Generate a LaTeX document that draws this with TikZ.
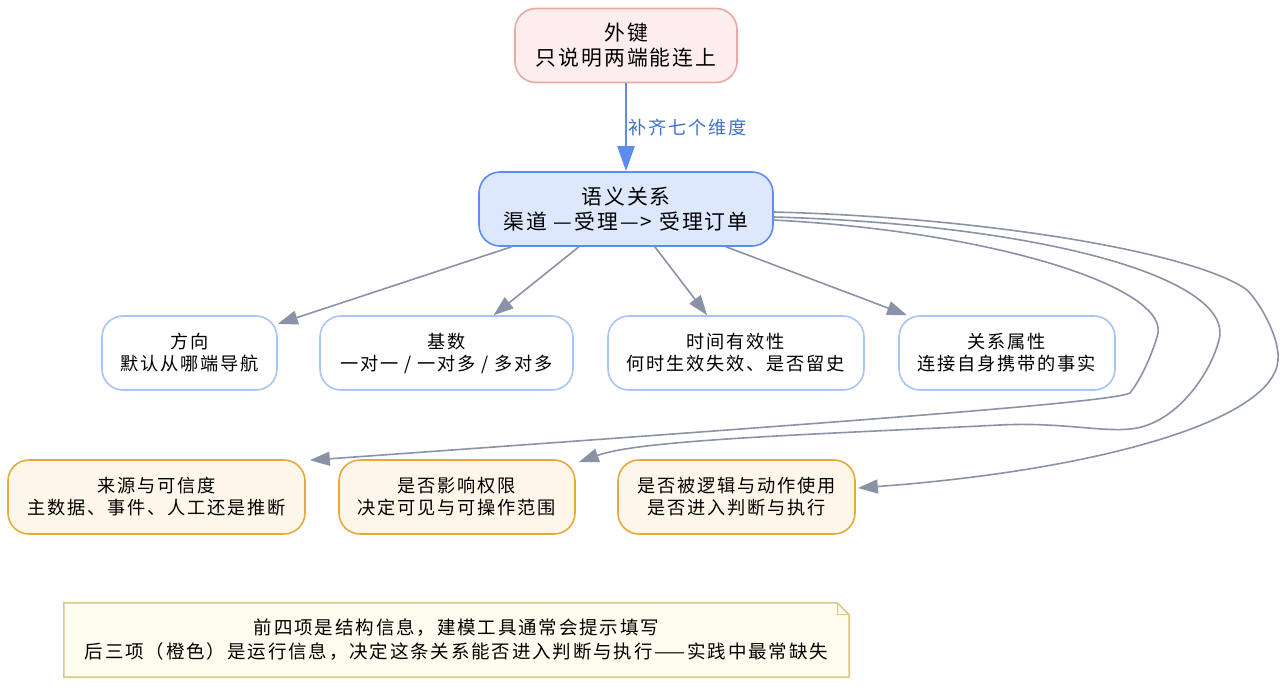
\documentclass[tikz,border=0pt]{standalone}
\usepackage{fontspec}
\setmainfont{Noto Sans CJK SC}
\newfontfamily\cjk[LetterSpace=10]{Noto Sans CJK SC}
\usetikzlibrary{arrows.meta,calc,backgrounds}
\definecolor{topfill}{HTML}{FDEEEE}
\definecolor{topdraw}{HTML}{E8A9A4}
\definecolor{cfill}{HTML}{DDE8FD}
\definecolor{cdraw}{HTML}{5B8DEF}
\definecolor{sdraw}{HTML}{A6C4F5}
\definecolor{ofill}{HTML}{FFF6EA}
\definecolor{odraw}{HTML}{E8A93C}
\definecolor{nfill}{HTML}{FFFDEF}
\definecolor{ndraw}{HTML}{DCC68A}
\definecolor{edgegray}{HTML}{8A93A5}
\definecolor{lblue}{HTML}{3F6FD0}
\tikzset{
  box/.style={rectangle, rounded corners=21pt, minimum height=74pt, inner sep=0pt, align=center, line width=1.6pt, text=black},
  bigbox/.style={box, font=\fontsize{20.8}{25}\selectfont\cjk},
  smallbox/.style={box, font=\fontsize{18.2}{22}\selectfont\cjk},
  structbox/.style={smallbox, fill=white, draw=sdraw},
  runbox/.style={smallbox, fill=ofill, draw=odraw},
  grayedge/.style={draw=edgegray, line width=1.6pt, -{Triangle[length=20pt,width=14pt]}},
  blueedge/.style={draw=cdraw, line width=2.3pt, -{Triangle[length=25pt,width=17pt]}},
}
\begin{document}
\begin{tikzpicture}[x=1pt,y=-1pt]
\useasboundingbox (0,0) rectangle (1287,686);
\node[bigbox, fill=topfill, draw=topdraw, minimum width=222pt] (fk) at (626,45.5) {外键\\只说明两端能连上};
\node[bigbox, fill=cfill, draw=cdraw, minimum width=294pt] (sem) at (626,209) {语义关系\\渠道 —受理—> 受理订单};
\node[structbox, minimum width=175pt] (d1) at (189.5,353) {方向\\默认从哪端导航};
\node[structbox, minimum width=253pt] (d2) at (446.5,353) {基数\\一对一 / 一对多 / 多对多};
\node[structbox, minimum width=256pt] (d3) at (736,353) {时间有效性\\何时生效失效、是否留史};
\node[structbox, minimum width=216pt] (d4) at (1007,353) {关系属性\\连接自身携带的事实};
\node[runbox, minimum width=297pt] (e1) at (156.5,497) {来源与可信度\\主数据、事件、人工还是推断};
\node[runbox, minimum width=236pt] (e2) at (457,497) {是否影响权限\\决定可见与可操作范围};
\node[runbox, minimum width=237pt] (e3) at (736.5,497) {是否被逻辑与动作使用\\是否进入判断与执行};
\node[minimum width=785pt, minimum height=74pt, inner sep=0pt, align=center, font=\fontsize{18.5}{24}\selectfont\cjk] (note) at (456.5,640) {前四项是结构信息，建模工具通常会提示填写\\后三项（橙色）是运行信息，决定这条关系能否进入判断与执行——实践中最常缺失};
\begin{scope}[on background layer]
\draw[draw=ndraw, fill=nfill, line width=1.6pt, line join=miter]
  (note.north west) -- ($(note.north east)+(-12,0)$) -- ($(note.north east)+(0,12)$) -- (note.south east) -- (note.south west) -- cycle;
\draw[draw=ndraw, line width=1.2pt] ($(note.north east)+(-12,0)$) -- ($(note.north east)+(-12,12)$) -- ($(note.north east)+(0,12)$);
\end{scope}
\draw[blueedge] (fk) -- node[anchor=west, inner sep=0pt, xshift=1pt, text=lblue, font=\fontsize{18.2}{22}\selectfont\cjk] {补齐七个维度} (sem);
\draw[grayedge] (sem) -- (d1);
\draw[grayedge] (sem) -- (d2);
\draw[grayedge] (sem) -- (d3);
\draw[grayedge] (sem) -- (d4);
\draw[grayedge] ([yshift=-11pt]sem.east) .. controls (1000,232) and (1175,290) .. (1157,337)
  .. controls (1150,360) and (1140,380) .. (1130,393)
  .. controls (1110,402) and (900,418) .. ([xshift=4pt,yshift=-1pt]e1.north east);
\draw[grayedge] ([yshift=-8pt]sem.east) .. controls (1050,225) and (1235,280) .. (1219,340)
  .. controls (1210,375) and (1175,425) .. (1130,429)
  .. controls (1100,432) and (1060,422) .. (1000,425)
  .. controls (800,435) and (640,440) .. ([xshift=3pt,yshift=-3pt]e2.north east);
\draw[grayedge] ([yshift=-3pt]sem.east) .. controls (1000,218) and (1200,255) .. (1247,290)
  .. controls (1262,305) and (1280,340) .. (1278,360)
  .. controls (1274,420) and (1100,470) .. ([xshift=2pt,yshift=9pt]e3.east);
\end{tikzpicture}
\end{document}
